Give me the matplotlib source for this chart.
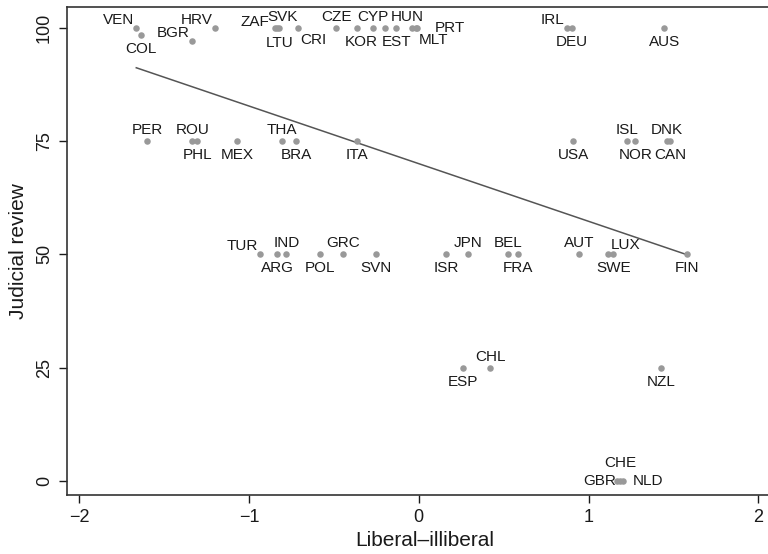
import numpy as np
import matplotlib
matplotlib.use('Agg')
import matplotlib.pyplot as plt

plt.rcParams['font.family'] = ['Liberation Sans', 'DejaVu Sans']

# country codes, liberal-illiberal score, judicial review score
countries = ['VEN', 'COL', 'BGR', 'HRV', 'ZAF', 'SVK', 'LTU', 'CRI', 'CZE', 'KOR',
             'CYP', '', 'EST', 'HUN', 'MLT', 'PRT', 'IRL', 'DEU', 'AUS',
             'PER', 'ROU', 'PHL', 'MEX', 'THA', 'BRA', 'ITA', 'USA', 'ISL', 'NOR',
             'DNK', 'CAN',
             'TUR', 'ARG', 'IND', 'POL', 'GRC', 'SVN', 'ISR', 'JPN', 'BEL', 'FRA',
             'AUT', 'LUX', 'SWE', 'FIN',
             'ESP', 'CHL', 'NZL',
             'GBR', 'CHE', 'NLD']
liberal = [-1.664, -1.634, -1.334, -1.198, -0.845, -0.833, -0.822, -0.710, -0.486, -0.362,
           -0.268, -0.197, -0.133, -0.038, -0.015, -0.012, 0.875, 0.904, 1.446,
           -1.599, -1.334, -1.304, -1.069, -0.804, -0.721, -0.362, 0.910, 1.228, 1.275,
           1.463, 1.481,
           -0.933, -0.833, -0.780, -0.580, -0.445, -0.250, 0.162, 0.292, 0.527, 0.586,
           0.945, 1.116, 1.145, 1.581,
           0.262, 0.421, 1.428,
           1.169, 1.187, 1.204]
judicial = [100, 98.5, 97.1, 100, 100, 100, 100, 100, 100, 100,
            100, 100, 100, 100, 100, 100, 100, 100, 100,
            75, 75, 75, 75, 75, 75, 75, 75, 75, 75,
            75, 75,
            50, 50, 50, 50, 50, 50, 50, 50, 50, 50,
            50, 50, 50, 50,
            25, 25, 25,
            0, 0, 0]
# label clock positions (Stata style)
clock = [10, 6, 10, 10, 9, 12, 6, 4, 12, 6,
         12, 12, 6, 12, 4, 3, 10, 6, 6,
         12, 12, 6, 6, 12, 6, 6, 6, 12, 6,
         12, 6,
         10, 6, 12, 6, 12, 6, 6, 12, 12, 6,
         12, 1, 6, 6,
         6, 12, 6,
         9, 12, 3]
# a few labels sit a little away from the default spot
extra_gap = {'PRT': (10, 0), 'CHE': (0, 5), 'NLD': (4, 0), 'GBR': (2, 0),
             'ZAF': (-1.5, 4), 'LTU': (0, -1), 'SVK': (3.5, 0), 'CYP': (0, 0),
             'HUN': (-3.5, 0), 'KOR': (3, 0)}

x = np.array(liberal)
y = np.array(judicial)

fig = plt.figure(figsize=(7.68, 5.54), dpi=100)
ax = fig.add_axes([67 / 768, 59 / 554, 716 / 768, 488 / 554])

ax.scatter(x, y, s=22, color='#999999', zorder=3, linewidths=0)

# linear fit over the data range
b, a = np.polyfit(x, y, 1)
xs = np.array([x.min(), x.max()])
ax.plot(xs, a + b * xs, color='#555555', lw=1.1, zorder=2)

g = 3.0
pos = {
    12: ((0, g), 'center', 'bottom'),
    6: ((0, -5.0), 'center', 'top'),
    3: ((g, 0), 'left', 'center'),
    9: ((-g, 0), 'right', 'center'),
    1: ((g * 0.6, g * 0.6), 'left', 'bottom'),
    4: ((1.5, -3.5), 'left', 'top'),
    10: ((-g * 0.6, g * 0.3), 'right', 'bottom'),
}
for lab, xi, yi, c in zip(countries, x, y, clock):
    if not lab:
        continue
    (dx, dy), ha, va = pos[c]
    ex, ey = extra_gap.get(lab, (0, 0))
    ax.annotate(lab, (xi, yi), xytext=(dx + ex, dy + ey), textcoords='offset points',
                ha=ha, va=va, fontsize=11, color='#1a1a1a', zorder=4)

ax.set_xlim(-2.072, 2.145)
ax.set_ylim(-3.1, 104.6)
ax.set_xticks([-2, -1, 0, 1, 2])
ax.set_xticklabels(['\u22122', '\u22121', '0', '1', '2'])
ax.set_yticks([0, 25, 50, 75, 100])
ax.set_yticklabels(['0', '25', '50', '75', '100'], rotation=90, va='center')
ax.tick_params(direction='out', length=6, width=1.0, labelsize=13, colors='#1a1a1a', pad=4)
for side in ['left', 'bottom', 'top', 'right']:
    ax.spines[side].set_linewidth(1.2)
    ax.spines[side].set_color('#333333')

ax.set_xlabel('Liberal\u2013illiberal', fontsize=15, color='#1a1a1a', labelpad=4)
ax.set_ylabel('Judicial review', fontsize=15, color='#1a1a1a', labelpad=6)

fig.savefig('out.png', dpi=100)
